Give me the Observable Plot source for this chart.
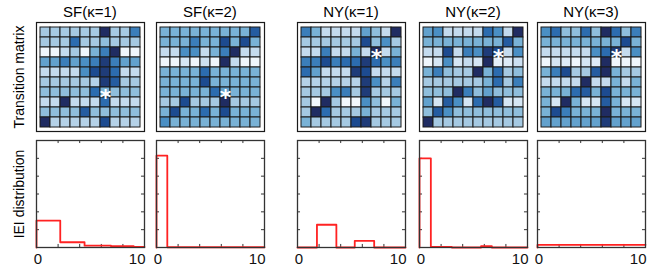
<!DOCTYPE html>
<html><head><meta charset="utf-8">
<script src="https://cdn.jsdelivr.net/npm/d3@7"></script>
<script src="https://cdn.jsdelivr.net/npm/@observablehq/plot@0.6"></script>
<style>
body{margin:0;background:#fff;}
#root{position:relative;width:657px;height:272px;overflow:hidden;font-family:"Liberation Sans",Arial,sans-serif;color:#000;}
.pl{position:absolute;}
.title{position:absolute;font-size:15px;text-align:center;width:140px;height:16px;line-height:16px;white-space:nowrap;}
.ylab{position:absolute;font-size:14px;transform:rotate(-90deg);white-space:nowrap;text-align:center;width:130px;height:16px;line-height:16px;}
</style></head><body><div id="root"></div>
<script>
// ---------- data ----------
const panelTitles = ["SF(κ=1)", "SF(κ=2)", "NY(κ=1)", "NY(κ=2)", "NY(κ=3)"];
const rowLabels = ["Transition matrix", "IEI distribution"];

// transition matrices (intensity levels 0 = white … 9 = navy), rows top→bottom
const sf1 = [
  [4,4,4,4,4,4,9,4,4,6.5],
  [4,4,4,7,4,4,4.5,4,4,4],
  [0.5,0.5,3,4,0.5,5,6.5,9,0.5,0.5],
  [5.5,5.5,6.5,5.5,6,6.5,8.5,6.5,5.5,5.5],
  [3,3,3,3,6,8,8.5,7,3,3],
  [4,4,4,4,4,3.5,8.5,7.5,4,4],
  [4.5,4.5,4.5,4.5,4.5,7,5,4.5,4.5,4.5],
  [3,3,9,3,3,3,7,3,3,3],
  [4.5,4.5,4.5,4.5,7.5,4.5,4.5,4.5,4.5,4.5],
  [9,3.5,3.5,3.5,3.5,3.5,8,3.5,3.5,3.5]
];
const sf2 = [
  [5,5,5,5,5,5,5,5,5,7.5],
  [5,5,5,6.5,5,5,8,5,8,5],
  [3,3,6,6,3,5,6.5,9,3,3],
  [0.5,0.5,2,0.5,2.5,0.5,9,3,0.5,0.5],
  [5,5,5,5,7,5,5,5,5,5],
  [5,5,5,5,8,5,5,5,5,5],
  [5,5,5,5,5,7,5.5,5,5,5],
  [4,4,8,4,4,4,9,4,4,4],
  [5,8,5,5,7,5,8,5,5,5],
  [6,5,5,5,5,5,5,5,5,5]
];
const ny1 = [
  [6.5,5,3,3,3,3,5.5,4.5,3,9],
  [4,4,4,4,4,4,8,4.5,6,4],
  [3,3,6.5,3,3,5,3,9,3,5],
  [6.5,6.5,8,6.5,7,7,8.5,7,6,6.5],
  [7,5.5,3,3,3,8.5,8,3,3,3],
  [3.5,3.5,3.5,3.5,3.5,3.5,8.5,6,3.5,6.5],
  [4,4,4,6,6.5,4,8.5,4,4,4],
  [4,0.3,9,4,0.3,0.3,6,4.5,0.3,5],
  [4,9,7,4,4,4,5,4,4,4],
  [5,4,4,4,4,8,8.5,4,4,4]
];
const ny2 = [
  [5.5,6,3,3,3,3,7,6,3,9],
  [5,5,5,5,5,5,5,5,7.5,5],
  [3,3,8,3,6.5,6,8.5,8,3,6],
  [0.5,2,6,2,3,2,9,1,1.5,2.5],
  [5,6.5,4.5,4,4,9,5,7,4,4.5],
  [4,4,4,4,4,4,5,7,4,6.5],
  [4.5,4.5,4.5,9,6.5,4.5,5.5,4.5,4.5,4.5],
  [5.5,2,7.5,6,2,7,9,7.5,2,2],
  [4.5,7.5,6,4.5,4.5,4.5,4.5,4.5,4.5,4.5],
  [9,4,4,4,4,4,4,4,4,4]
];
const ny3 = [
  [6,7,4.5,4.5,7,4.5,9,7,4.5,6.5],
  [5,5,5,5,5,5,5,5,8,5],
  [3,3,3,3,3,6,7,8.5,3,6],
  [0.5,2,1.5,0.5,2,1.5,9,0.5,0.5,0.5],
  [5,6.5,8,4,4,7.5,9,5,4,4],
  [3,3,3,3,9,3,3,5,3,5],
  [5,5,5,7,7.5,5,8,5,5,5],
  [5,2,9,5,2,2,7.5,5,2,2],
  [5,8,6.5,5,5,5,9,5,5,5],
  [5.5,5.5,5.5,5.5,5.5,5.5,8.5,5.5,5.5,5.5]
];
const matrices = [sf1, sf2, ny1, ny2, ny3];
// asterisk cell [row, col] per panel
const starRow = [6, 6, 2, 2, 2];
const starCol = [6, 6, 7, 7, 7];

// IEI distributions: bin edges and heights
const ieiEdges = [
  [0, 2.2, 4.45, 6.9, 9, 10],
  [0, 1.0, 10],
  [0, 1.8, 3.6, 5.3, 7.1, 10],
  [0, 1.05, 3.0, 5.7, 6.7, 10],
  [0, 10]
];
const ieiHeights = [
  [0.302, 0.059, 0.02, 0.014, 0.007],
  [1.03, 0.003],
  [0.0, 0.255, 0.0, 0.075, 0.0],
  [1.0, 0.006, 0.0, 0.015, 0.0],
  [0.03]
];
const xTickValues = [2, 4, 6, 8];
const yTickValues = [0.2, 0.4, 0.6, 0.8, 1.0];
const xLabelValues = [0, 10];

// ---------- layout ----------
const panelLeft = [36, 156, 297, 419, 537];
const panelW = 108;
const gridTop = 22, gridH = 109;
const histTop = 140, histH = 107;
const levelDomain = [0, 3, 4, 5, 6, 7, 8, 9];
const levelRange = ["#f7fbff","#c4dbee","#a5c9e2","#79b2d6","#4a8fc4","#2c6caf","#1d4b90","#202c62"];
const FONT = '"Liberation Sans", Arial, sans-serif';

const root = document.getElementById("root");
function place(el, left, top) { el.classList.add("pl"); el.style.left = left + "px"; el.style.top = top + "px"; root.appendChild(el); }

matrices.forEach((m, i) => {
  const cells = m.flatMap((row, r) => row.map((v, c) => ({r, c, v})));
  const star = [{r: starRow[i], c: starCol[i]}];
  const p = Plot.plot({
    width: panelW + 2, height: gridH + 2, margin: 1,
    style: {background: "transparent", overflow: "visible"},
    x: {domain: d3.range(10), axis: null, padding: 0},
    y: {domain: d3.range(10), axis: null, padding: 0},
    color: {type: "linear", domain: levelDomain, range: levelRange, interpolate: "rgb"},
    marks: [
      Plot.cell(cells, {x: "c", y: "r", fill: "v", stroke: "#1a1a1a", strokeWidth: 1, inset: 0}),
      Plot.text(star, {x: "c", y: "r", text: () => "*", fill: "white", fontSize: 22, fontWeight: "bold", fontFamily: "DejaVu Sans", dy: 5}),
      Plot.frame({stroke: "#1a1a1a", strokeWidth: 1.2})
    ]
  });
  place(p, panelLeft[i] - 1, gridTop - 1);

  const t = document.createElement("div");
  t.className = "title"; t.textContent = panelTitles[i];
  t.style.left = (panelLeft[i] + panelW / 2 - 70) + "px"; t.style.top = "4px";
  root.appendChild(t);

  const edges = ieiEdges[i], hs = ieiHeights[i];
  const pts = [{x: 0, y: 0}];
  hs.forEach((h, k) => pts.push({x: edges[k], y: h}));
  pts.push({x: edges[edges.length - 1], y: hs[hs.length - 1]});
  const tx = 0.28, ty = 0.034;
  const h = Plot.plot({
    width: panelW + 16, height: histH + 26,
    marginLeft: 8, marginRight: 8, marginTop: 2, marginBottom: 24,
    style: {background: "transparent", overflow: "visible"},
    x: {domain: [0, 10], axis: null},
    y: {domain: [0, 1.2], axis: null},
    marks: [
      Plot.ruleY(yTickValues, {x1: 0, x2: tx, stroke: "#333", strokeWidth: 1}),
      Plot.ruleY(yTickValues, {x1: 10 - tx, x2: 10, stroke: "#333", strokeWidth: 1}),
      Plot.ruleX(xTickValues, {y1: 1.2 - ty, y2: 1.2, stroke: "#333", strokeWidth: 1}),
      Plot.ruleX(xTickValues, {y1: 0, y2: ty, stroke: "#333", strokeWidth: 1}),
      Plot.line(pts, {x: "x", y: "y", curve: "step-after", stroke: "#ff2222", strokeWidth: 1.8}),
      Plot.frame({stroke: "#333", strokeWidth: 1.3}),
      Plot.text([xLabelValues[0]], {x: d => d, y: 0, text: d => String(d), dy: 12, dx: 1.5, textAnchor: "middle", fontSize: 15, fontFamily: FONT, fill: "#111"}),
      Plot.text([xLabelValues[1]], {x: d => d, y: 0, text: d => String(d), dy: 12, dx: 1, textAnchor: "end", fontSize: 15, fontFamily: FONT, fill: "#111"})
    ]
  });
  place(h, panelLeft[i] - 8, histTop - 2);
});

const ylabCenters = [[19, 77], [19, 194]];
rowLabels.forEach((lab, k) => {
  const d = document.createElement("div");
  d.className = "ylab"; d.textContent = lab;
  d.style.left = (ylabCenters[k][0] - 65) + "px";
  d.style.top = (ylabCenters[k][1] - 8) + "px";
  root.appendChild(d);
});
</script></body></html>
